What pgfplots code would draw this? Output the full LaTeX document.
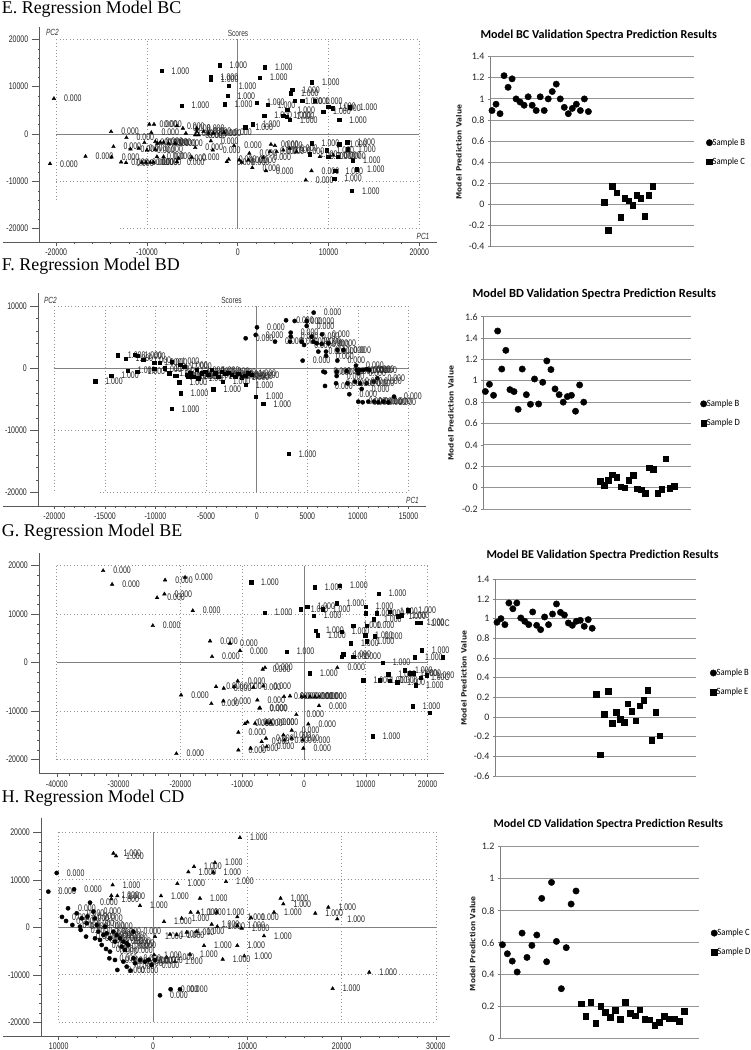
\documentclass[border=0pt]{standalone}
\usepackage{pgfplots}
\usepackage{fontspec}
\pgfplotsset{compat=1.18}
\setmainfont{Liberation Sans}
\newfontfamily\narrow[FakeStretch=0.73]{Liberation Sans}
\newfontfamily\serifh{Liberation Serif}
\newfontfamily\carl{Carlito}
\newfontfamily\carln[FakeStretch=0.9]{Carlito}
\newfontfamily\dvb{DejaVu Sans Bold}
\newcommand\scfont{\narrow\fontsize{9.6}{10}\selectfont}
\pgfplotsset{
 score/.style={scale only axis,anchor=south west,axis lines=left,clip=false,
   axis line style={-,draw=black!65,line width=0.8bp},
   tick style={draw=black!65,line width=0.5bp},
   tick align=outside,major tick length=3.5bp,minor tick length=2bp,minor tick num=4,
   extra y tick labels={},extra y tick style={major tick length=8bp},
   scaled ticks=false,
   ticklabel style={font=\scfont,text=black!85},
   yticklabel style={xshift=-4.5bp},
   /pgf/number format/.cd,fixed,1000 sep={},assume math mode=true},
 dg/.style={draw=black!42,line width=0.7bp,dash pattern=on 0.9bp off 2.5bp,forget plot,no marks},
 zl/.style={draw=black!50,line width=0.9bp,forget plot,no marks},
 lbl/.style={every node near coord/.append style={anchor=west,inner sep=0pt,xshift=10bp,yshift=0bp,font=\scfont,text=black!85}},
 tri/.style={only marks,mark=triangle*,mark size=2.1bp,black,nodes near coords={0.000},lbl},
 tris/.style={tri,nodes near coords={1.000}},
 sq/.style={only marks,mark=square*,mark size=1.7bp,black,nodes near coords={1.000},lbl},
 cir/.style={only marks,mark=*,mark size=2.1bp,black,nodes near coords={0.000},lbl},
 pred/.style={scale only axis,anchor=south west,axis y line=left,axis x line=none,clip=false,
   xtick=\empty,xmin=0.5,ymajorgrids,
   grid style={draw=black!42,line width=0.9bp},
   axis line style={-,draw=black!50,line width=0.9bp},
   y tick style={draw=black!50,line width=0.6bp},major tick length=2bp,tick align=outside,
   yticklabel style={font=\carl\fontsize{10}{11}\selectfont,text=black!85},
   /pgf/number format/.cd,fixed,precision=1,assume math mode=true,/pgfplots/.cd,
   legend cell align=left,
   legend style={draw=none,fill=none,inner sep=0pt,outer sep=0pt,font=\carln\fontsize{9.6}{10}\selectfont,
     nodes={inner sep=0pt},row sep=11bp,anchor=west}},
 pc/.style={only marks,mark=*,mark size=3.2bp,black,legend image code/.code={\draw[##1] plot coordinates {(0cm,0cm)};}},
 ps/.style={only marks,mark=square*,mark size=2.8bp,black,legend image code/.code={\draw[##1] plot coordinates {(0cm,0cm)};}},
}
\begin{document}
\begin{tikzpicture}
\path[use as bounding box] (0,0) rectangle (751bp,1050bp);
% panel headings
\node[anchor=base west,inner sep=0pt,font=\serifh\fontsize{18}{20}\selectfont] at (1.7bp,1036.5bp) {E. Regression Model BC};
\node[anchor=base west,inner sep=0pt,font=\serifh\fontsize{18}{20}\selectfont] at (1.7bp,779bp) {F. Regression Model BD};
\node[anchor=base west,inner sep=0pt,font=\serifh\fontsize{18}{20}\selectfont] at (1.7bp,513.3bp) {G. Regression Model BE};
\node[anchor=base west,inner sep=0pt,font=\serifh\fontsize{18}{20}\selectfont] at (1.7bp,247bp) {H. Regression Model CD};
% chart titles
\node[font=\carl\bfseries\fontsize{12.2}{13}\selectfont] at (598.7bp,1015.3bp) {Model BC Validation Spectra Prediction Results};
\node[font=\carl\bfseries\fontsize{12.5}{13}\selectfont] at (594.3bp,756bp) {Model BD Validation Spectra Prediction Results};
\node[font=\carl\bfseries\fontsize{12}{13}\selectfont] at (602.5bp,494.7bp) {Model BE Validation Spectra Prediction Results};
\node[font=\carl\bfseries\fontsize{11.8}{13}\selectfont] at (608.3bp,226bp) {Model CD Validation Spectra Prediction Results};
% y labels
\foreach \x/\y in {459/898,451/637,464/372,472.7/106.3}
  \node[rotate=90,font=\dvb\fontsize{7.3}{9}\selectfont,text=black!85] at (\x bp,\y bp) {Model Prediction Value};
% score captions
\node[font=\narrow\fontsize{9}{9}\selectfont,text=black!80] at (238bp,1017bp) {Scores};
\node[font=\narrow\itshape\fontsize{9}{9}\selectfont,text=black!80] at (52.5bp,1018bp) {PC2};
\node[font=\narrow\itshape\fontsize{9}{9}\selectfont,text=black!80] at (423bp,814bp) {PC1};
\node[font=\narrow\fontsize{9}{9}\selectfont,text=black!80] at (231.5bp,750bp) {Scores};
\node[font=\narrow\itshape\fontsize{9}{9}\selectfont,text=black!80] at (50.5bp,750bp) {PC2};
\node[font=\narrow\itshape\fontsize{9}{9}\selectfont,text=black!80] at (412.5bp,550bp) {PC1};
% bottom axes extend to the left
\draw[draw=black!65,line width=0.8bp] (3bp,807.7bp) -- (40bp,807.7bp);
\draw[draw=black!65,line width=0.8bp] (3.3bp,544bp) -- (39bp,544bp);
\draw[draw=black!65,line width=0.8bp] (3bp,13.7bp) -- (42bp,13.7bp);

%%% E scores
\begin{axis}[score,at={(39.7bp,807.7bp)},width=397bp,height=215.6bp,
  xmin=-21818,xmax=21928,ymin=-22884,ymax=22672,
  xtick={-20000,-10000,0,10000,20000},ytick={-20000,-10000,0,10000,20000},extra y ticks={-20000,-10000,0,10000,20000}]
\pgfplotsinvokeforeach{-10000,10000,20000}{\addplot[dg] coordinates {(#1,-20000)(#1,20000)};}
\addplot[dg] coordinates {(-20000,20000)(-20000,-14000)};
\addplot[dg] coordinates {(-20000,20000)(20000,20000)};
\addplot[dg] coordinates {(-20000,-10000)(20000,-10000)};
\addplot[dg] coordinates {(-13000,-20000)(20000,-20000)};
\addplot[zl] coordinates {(-20000,0)(20000,0)};
\addplot[zl] coordinates {(0,20000)(0,-20000)};
\addplot[tri] coordinates {(-20250,7480)(-20680,-6280)(-16770,-4730)(-13950,490)(-13900,-4870)(-13690,-2680)(-12260,-780)(-12850,-5930)(-12300,-6070)(-11820,-3180)(-10900,-3040)(-10280,-1840)(-9740,2050)(-9220,2050)(-9520,280)(-10550,-6000)(-10110,-6000)(-9630,-6000)(-9270,-6000)(-8900,-4800)(-9080,-1620)(-8830,-1980)(-8530,-1770)(-8170,-1770)(-7620,-1980)(-6890,-1980)(-10000,-3390)(-9080,-3250)(-6700,1700)(-6040,1200)(-5710,140)(-4510,1200)(-4510,490)(-4690,-210)(-4320,-210)(-3770,490)(-3220,140)(-2670,140)(-1500,350)(-4680,-2890)(-2960,-1480)(-2750,-3390)(-400,-2470)(-1200,-5860)(-990,-5370)(-8170,-4800)(-6700,-5860)(-6520,-5150)(-5050,-4940)(1170,-5510)(1280,-4090)(180,-5510)(440,-6000)(1610,-7130)(2820,-4940)(3110,-7770)(3660,-2190)(4100,-2470)(3550,-3740)(4290,-3740)(5020,-3390)(5750,-3040)(6480,-3740)(8130,-7770)(7500,-9740)(9050,-4800)(10510,-4450)};
\addplot[sq] coordinates {(-8400,13350)(-2010,14540)(3000,14120)(2450,11930)(-3000,12070)(-2970,11580)(-1000,10170)(-1130,8050)(-1430,6280)(-6190,6000)(2120,6640)(3300,6140)(8170,10940)(6000,9320)(5860,8610)(7100,6990)(6300,6990)(8500,7000)(10500,5440)(9960,5790)(9400,4730)(11170,2970)(12340,5650)(5460,5080)(2930,3880)(5020,3880)(5380,3670)(5750,2970)(1650,2050)(840,1410)(8130,-1980)(11170,-2120)(12080,-1770)(12150,-3250)(9780,-3390)(12700,-5500)(10760,-7770)(13140,-7410)(10620,-9390)(12590,-12000)(9960,-4800)(11050,-4800)(7940,-4240)};
\end{axis}

%%% F scores
\begin{axis}[score,at={(38.3bp,544bp)},width=387.7bp,height=213.3bp,
  xmin=-21581,xmax=16729,ymin=-22210,ymax=12194,
  xtick={-20000,-15000,-10000,-5000,0,5000,10000,15000},ytick={-20000,-10000,0,10000},extra y ticks={-20000,-10000,0,10000}]
\pgfplotsinvokeforeach{-20000,-15000,-10000,-5000,5000,10000,15000}{\addplot[dg] coordinates {(#1,10000)(#1,-20000)};}
\addplot[dg] coordinates {(-20000,10000)(15000,10000)};
\addplot[dg] coordinates {(-20000,-10000)(15000,-10000)};
\addplot[dg] coordinates {(-15500,-20000)(15000,-20000)};
\addplot[zl] coordinates {(-20000,0)(15000,0)};
\addplot[zl] coordinates {(0,10000)(0,-20000)};
\addplot[sq] coordinates {(-15970,-2100)(-14390,-1180)(-13730,2100)(-12970,1560)(-12740,-380)(-12080,2150)(-11750,2000)(-11790,-540)(-11200,1340)(-10140,910)(-10140,-100)(-9600,910)(-9120,0)(-8660,-800)(-8400,1070)(-8400,-6560)(-8070,-1180)(-7900,-1240)(-7570,540)(-7640,-2260)(-7510,-4030)(-7180,270)(-6915,-1075)(-6750,-1344)(-6585,-806)(-6256,-1344)(-5927,-269)(-5762,-1613)(-5433,-806)(-5104,-538)(-4774,-1075)(-4445,-269)(-4116,-806)(-3787,-1344)(-3457,-538)(-3128,-914)(-2799,-699)(-2470,-1075)(-2140,-1344)(-1811,-914)(-1482,-1452)(-1152,-1237)(-823,-806)(-494,-1075)(-4280,-3390)(-3360,-2150)(-1090,-2690)(-100,-4570)(660,-5750)(3160,-13820)};
\addplot[cir] coordinates {(5630,8980)(2900,7740)(3750,7630)(4940,7630)(4940,6830)(30,6610)(-100,5380)(-1090,4840)(1810,4300)(3360,5750)(3360,5110)(3290,4300)(4450,4300)(4680,3760)(5430,5110)(5600,4300)(6450,5480)(5930,4030)(6420,3920)(7080,4030)(6090,2690)(6850,2690)(6850,1990)(4540,1240)(7970,2960)(7970,1240)(8560,2960)(6590,-540)(6750,-650)(6750,-2850)(7900,-540)(7900,-1240)(7840,-2420)(8890,-430)(8960,-2420)(9150,-4190)(9810,430)(9880,-270)(10040,-810)(10040,-5380)(10470,-5480)(11030,-5380)(10370,-3330)(10210,-270)(10530,-270)(10860,-160)(11130,-270)(11590,-2150)(11920,-1610)(10860,-2420)(11590,-5380)(12020,-5480)(12510,-5380)(13010,-5480)(13570,-4570)(9710,-2150)(10210,-2420)};
\end{axis}

%%% G scores
\begin{axis}[score,at={(39.3bp,276.3bp)},width=404.7bp,height=220.4bp,
  xmin=-42832,xmax=22654,ymin=-22887,ymax=22557,
  xtick={-40000,-30000,-20000,-10000,0,10000,20000},ytick={-20000,-10000,0,10000,20000},extra y ticks={-20000,-10000,0,10000,20000}]
\pgfplotsinvokeforeach{-40000,-20000,-10000,10000,20000}{\addplot[dg] coordinates {(#1,20000)(#1,-20000)};}
\addplot[dg] coordinates {(-40000,20000)(20000,20000)};
\addplot[dg] coordinates {(-40000,10000)(20000,10000)};
\addplot[dg] coordinates {(-40000,-10000)(20000,-10000)};
\addplot[dg] coordinates {(-40000,-20000)(20000,-20000)};
\addplot[zl] coordinates {(-40000,0)(20000,0)};
\addplot[zl] coordinates {(0,20000)(0,-20000)};
\addplot[tri] coordinates {(-32500,18970)(-31050,16150)(-22480,17040)(-19250,17590)(-22590,14160)(-23770,13400)(-18000,10720)(-24470,7630)(-15200,4470)(-11970,3990)(-10350,2470)(-14880,1240)(-6310,-1030)(-6680,-1370)(-10730,-3780)(-14230,-4950)(-12990,-5290)(-11320,-4950)(-8190,-5090)(-6580,-4810)(-19890,-6670)(-14990,-8450)(-13050,-7900)(-7550,-7700)(-7220,-9350)(-7120,-9350)(-3230,-7010)(-2260,-6870)(2430,-7010)(-380,-7010)(160,-7010)(970,-7010)(1780,-7010)(2430,-8870)(-1240,-10720)(700,-12650)(-1990,-13950)(-9160,-12230)(-9540,-12580)(-7920,-12510)(-6040,-12370)(-5390,-12370)(-10620,-14360)(-6150,-15600)(-3340,-14910)(-6850,-16290)(-3180,-15950)(-1990,-15600)(-220,-15950)(-10620,-18010)(-8630,-17660)(-110,-17660)(-20650,-18760)(-6040,-17320)(5390,-1030)};
\addplot[sq] coordinates {(-8570,16630)(-6360,10310)(-540,11070)(540,11550)(1560,9690)(1730,15530)(5820,15880)(12080,14230)(5280,12230)(3020,11000)(9970,11550)(9970,10170)(11750,10170)(11320,8930)(7980,7630)(10130,7630)(1940,6600)(2260,5640)(6090,6390)(9870,5700)(11480,5500)(7600,3990)(10130,4470)(-2800,2270)(19030,2540)(6090,1240)(6360,1720)(7980,1240)(17950,1100)(12720,0)(970,-2200)(9600,-3570)(12290,-3570)(13640,-2410)(13910,-3710)(15090,-4050)(16330,-1510)(17140,-2200)(17680,-2200)(18110,-4600)(19840,-2540)(13910,10520)(15260,9620)(15800,9830)(16870,10860)(18220,8250)(17570,-8930)(11100,-15120)};
\addplot[only marks,mark=square*,mark size=1.7bp,black,nodes near coords={1.00C},lbl] coordinates {(18900,-3090)(18900,8200)};
\addplot[only marks,mark=square*,mark size=1.7bp,black] coordinates {(20380,-10310)(22430,1100)};
\end{axis}

%%% H scores
\begin{axis}[score,at={(41.3bp,13.7bp)},width=408.7bp,height=218bp,
  xmin=-11845,xmax=31495,ymin=-22947,ymax=22947,
  xtick={-10000,0,10000,20000,30000},ytick={-20000,-10000,0,10000,20000},extra y ticks={-20000,-10000,0,10000,20000},
  xticklabels={10000,0,10000,20000,30000}]
\pgfplotsinvokeforeach{-10000,10000,20000,30000}{\addplot[dg] coordinates {(#1,20000)(#1,-20000)};}
\addplot[dg] coordinates {(-10000,20000)(30000,20000)};
\addplot[dg] coordinates {(-10000,10000)(30000,10000)};
\addplot[dg] coordinates {(-10000,-10000)(30000,-10000)};
\addplot[dg] coordinates {(-10000,-20000)(30000,-20000)};
\addplot[zl] coordinates {(-10000,0)(30000,0)};
\addplot[zl] coordinates {(0,20000)(0,-20000)};
\addplot[tris] coordinates {(9220,18880)(-4200,15580)(-3920,15020)(6570,13610)(4350,12770)(3750,11650)(6400,11580)(7740,9610)(2580,9190)(-4280,8910)(-4420,6670)(-3780,6600)(-4420,5960)(-1380,4560)(850,6600)(4980,6100)(13530,6100)(13820,4910)(18590,4210)(19540,1750)(17210,2950)(12830,3160)(10390,2040)(8940,2180)(3990,3160)(4770,3160)(3040,1890)(1170,1190)(6750,3160)(6220,630)(6820,140)(8940,350)(9400,-210)(11770,-1820)(5410,-3860)(8940,-3860)(9680,-6040)(7390,-6740)(2330,-7230)(3920,-5680)(1450,-6320)(22930,-9470)(19050,-12910)(210,-1960)(1800,-1470)(2510,-1610)(3570,-1050)(4630,-910)(110,-5820)};
\addplot[cir] coordinates {(-10210,11440)(-11100,7510)(-8370,8000)(-9010,4000)(-9650,2180)(-9220,1330)(-8550,490)(-8090,2950)(-6680,5190)(-7560,1890)(-7740,140)(-7670,-560)(-6960,2250)(-7030,840)(-7100,-1960)(-6330,3300)(-6150,1890)(-5970,490)(-5800,-910)(-6150,-2320)(-5620,-2670)(-5440,-3720)(-5090,140)(-4910,-1260)(-4560,-2320)(-5270,-1610)(-4560,-5120)(-4630,-6530)(-4980,-4560)(-4030,-6880)(-3780,-8980)(-4200,-910)(-3850,-1610)(-3500,-2320)(-3140,-3020)(-2790,-3370)(-4030,-3020)(-3320,-4070)(-2970,-4770)(-2610,-3720)(-3140,-7230)(-2790,-8280)(-2370,-9120)(-2080,-6530)(-1910,-7580)(-1380,-6880)(-850,-7230)(-490,-6880)(-140,-7930)(210,-6880)(-2080,-910)(1870,-13050)(2860,-13050)(740,-14320)};
\end{axis}

%%% E prediction
\begin{axis}[pred,at={(490bp,803.3bp)},width=204bp,height=190bp,xmax=51.3,ymin=-0.4,ymax=1.4,
  ytick={-0.4,-0.2,0,0.2,0.4,0.6,0.8,1,1.2,1.4},
  legend style={at={(rel axis cs:1.06,0.497)}}]
\addplot[pc] coordinates {(1,.89)(2,.95)(3,.86)(4,1.22)(5,1.11)(6,1.19)(7,1.0)(8,.97)(9,.94)(10,1.02)(11,.94)(12,.89)(13,1.02)(14,.89)(15,1.0)(16,1.07)(17,1.14)(18,1.0)(19,.92)(20,.86)(21,.91)(22,.95)(23,.89)(24,1.0)(25,.88)};
\addplot[ps] coordinates {(29,.02)(30,-.245)(31,.175)(32,.11)(33,-.12)(34,.06)(35,.035)(36,-.005)(37,.085)(38,.06)(39,-.11)(40,.09)(41,.175)};
\legend{Sample B,Sample C}
\end{axis}

%%% F prediction
\begin{axis}[pred,at={(483.3bp,541bp)},width=207.4bp,height=192.3bp,xmax=51.1,ymin=-0.2,ymax=1.6,
  ytick={-0.2,0,0.2,0.4,0.6,0.8,1,1.2,1.4,1.6},
  legend style={at={(rel axis cs:1.047,0.497)}}]
\addplot[pc] coordinates {(1,.90)(2,.967)(3,.864)(4,1.466)(5,1.11)(6,1.285)(7,.917)(8,.899)(9,.733)(10,1.11)(11,.87)(12,.78)(13,1.017)(14,.783)(15,.986)(16,1.186)(17,1.105)(18,.924)(19,.87)(20,.80)(21,.852)(22,.864)(23,.715)(24,.961)(25,.80)};
\addplot[ps] coordinates {(29,.06)(30,.02)(31,.07)(32,.12)(33,.10)(34,.01)(35,0)(36,.07)(37,.115)(38,-.01)(39,-.02)(40,-.05)(41,.185)(42,.17)(43,-.05)(44,-.015)(45,.27)(46,-.003)(47,.012)};
\legend{Sample B,Sample D}
\end{axis}

%%% G prediction
\begin{axis}[pred,at={(495bp,274bp)},width=200.7bp,height=196.7bp,xmax=51.1,ymin=-0.6,ymax=1.4,
  ytick={-0.6,-0.4,-0.2,0,0.2,0.4,0.6,0.8,1,1.2,1.4},
  legend style={at={(rel axis cs:1.072,0.475)}}]
\addplot[pc] coordinates {(1,.963)(2,1.0)(3,.939)(4,1.159)(5,1.10)(6,1.159)(7,1.007)(8,.973)(9,.939)(10,1.068)(11,.932)(12,.888)(13,1.017)(14,.939)(15,1.047)(16,1.149)(17,1.064)(18,1.037)(19,.956)(20,.932)(21,.973)(22,.983)(23,.922)(24,.99)(25,.902)};
\addplot[ps] coordinates {(26,.234)(27,-.383)(28,.027)(29,.261)(30,-.061)(31,.047)(32,-.02)(33,-.051)(34,.136)(35,.058)(36,-.037)(37,.115)(38,.173)(39,.275)(40,-.234)(41,.047)(42,-.19)};
\legend{Sample B,Sample E}
\end{axis}

%%% H prediction
\begin{axis}[pred,at={(500bp,11.3bp)},width=198.7bp,height=192bp,xmax=41,ymin=0,ymax=1.2,
  ytick={0,0.2,0.4,0.6,0.8,1,1.2},
  legend style={at={(rel axis cs:1.062,0.5)}}]
\addplot[pc] coordinates {(1,.5875)(2,.531)(3,.485)(4,.417)(5,.66)(6,.508)(7,.583)(8,.648)(9,.877)(10,.481)(11,.977)(12,.608)(13,.3125)(14,.569)(15,.8417)(16,.923)};
\addplot[ps] coordinates {(17,.219)(18,.142)(19,.229)(20,.098)(21,.204)(22,.167)(23,.135)(24,.179)(25,.121)(26,.227)(27,.158)(28,.144)(29,.181)(30,.121)(31,.119)(32,.083)(33,.104)(34,.142)(35,.125)(36,.125)(37,.108)(38,.173)};
\legend{Sample C,Sample D}
\end{axis}
\end{tikzpicture}
\end{document}
